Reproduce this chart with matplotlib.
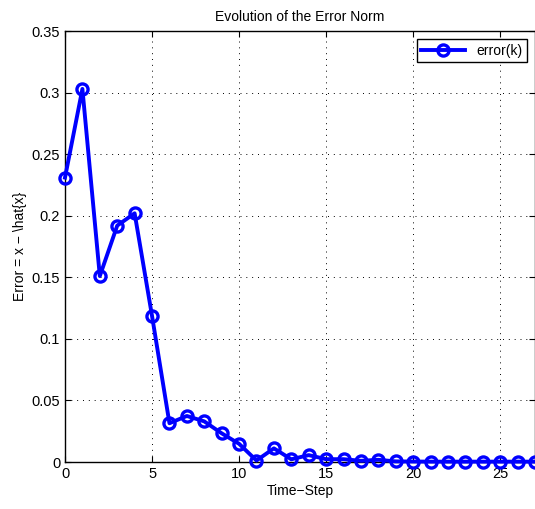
import numpy as np
import matplotlib.pyplot as plt

plt.rcParams['font.family'] = ['Liberation Sans', 'DejaVu Sans']

steps = list(range(0, 28))
error = [0.231, 0.303, 0.151, 0.192, 0.202, 0.1186, 0.0315, 0.0374, 0.033,
         0.0233, 0.0148, 0.0012, 0.0111, 0.0022, 0.0056, 0.0023, 0.0023,
         0.0010, 0.0018, 0.0005, 0.0004, 0.0003, 0.0003, 0.0003, 0.0003,
         0.0003, 0.0003, 0.0003]
xticks = [0, 5, 10, 15, 20, 25]
yticks = [0, 0.05, 0.1, 0.15, 0.2, 0.25, 0.3, 0.35]
ytick_labels = ['0', '0.05', '0.1', '0.15', '0.2', '0.25', '0.3', '0.35']

fig = plt.figure(figsize=(5.35, 5.09), dpi=100)
ax = fig.add_axes([0.1215, 0.0923, 0.8785, 0.8467])

ax.plot(steps, error, color='blue', linewidth=2.8, marker='o', markersize=8,
        markerfacecolor='none', markeredgewidth=2.4, label='error(k)',
        clip_on=False, zorder=5)

ax.set_xlim(0, 27)
ax.set_ylim(0, 0.35)
ax.set_xticks(xticks)
ax.set_yticks(yticks)
ax.set_yticklabels(ytick_labels)
ax.tick_params(direction='in', top=True, right=True, labelsize=10.5, length=4)
ax.grid(True, color='black', linestyle=(0, (1, 5)), linewidth=0.7)
for s in ax.spines.values():
    s.set_linewidth(1.0)

ax.set_title('Evolution of the Error Norm', fontsize=10, pad=7)
ax.set_xlabel('Time\u2212Step', fontsize=10, labelpad=2)
ax.set_ylabel('Error = x \u2212 \\hat{x}', fontsize=10, labelpad=3)

leg = ax.legend(loc='upper right', fontsize=10, fancybox=False, framealpha=1,
                edgecolor='black', handlelength=3.2, borderaxespad=0.6,
                borderpad=0.3)
leg.get_frame().set_linewidth(1.0)

fig.savefig('out.png', dpi=100)
